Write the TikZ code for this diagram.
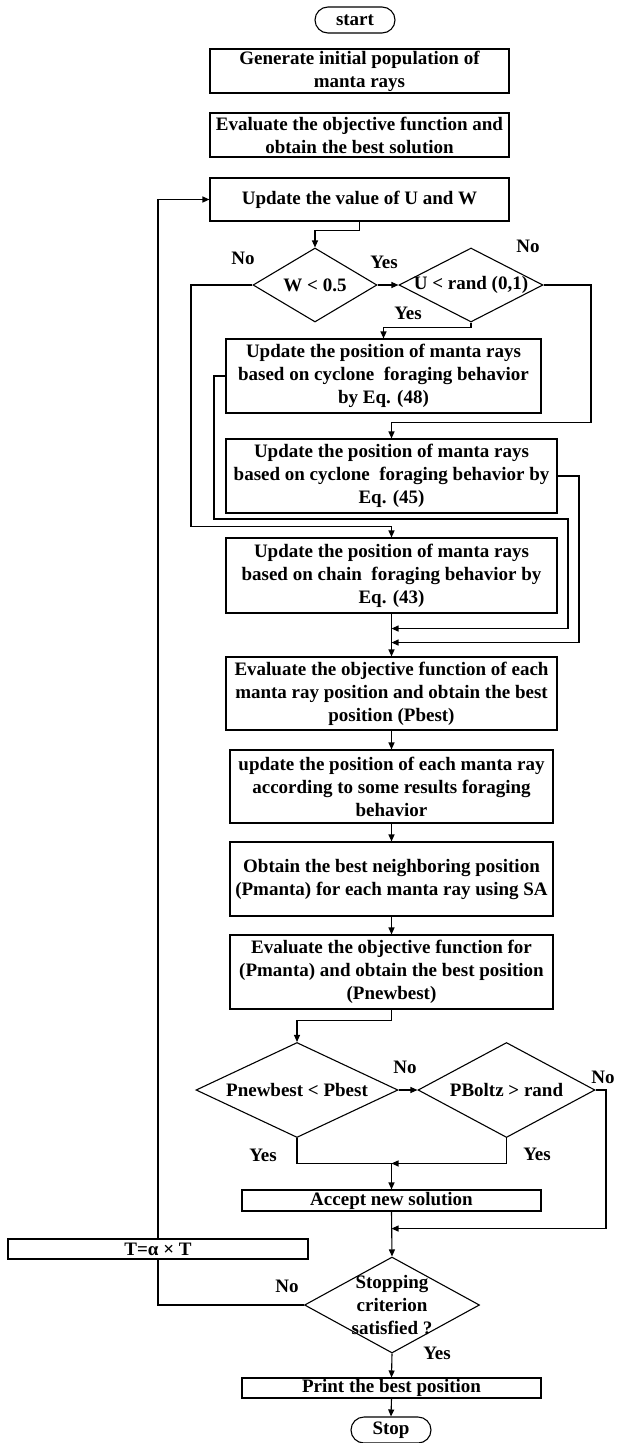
\documentclass[tikz,border=0pt]{standalone}
\usepackage{fontspec}
\setmainfont{Liberation Serif}
\usetikzlibrary{shapes.geometric,arrows.meta,calc}
\begin{document}
\begin{tikzpicture}[x=1pt,y=1pt,
  every node/.style={font=\fontsize{19}{23}\selectfont\bfseries},
  box/.style={draw,line width=1.1pt,inner sep=0pt,align=center},
  term/.style={box,rounded corners=13pt,minimum width=80pt,minimum height=26pt},
  dec/.style={draw,diamond,line width=1.1pt,inner sep=0pt},
  dtext/.style={align=center,inner sep=0pt},
  lbl/.style={inner sep=0pt},
  line/.style={line width=1.1pt},
  arr/.style={line,-{Triangle[length=7pt,width=6pt]}}]
\useasboundingbox (0,0) rectangle (616,-1443);

% nodes
\node[term] (start) at (355,-20) {start};
\node[box,minimum width=299pt,minimum height=44pt] (gen) at (359.5,-71) {Generate initial population of\\manta rays};
\node[box,minimum width=299pt,minimum height=44pt] (eval) at (359.5,-135) {Evaluate the objective function and\\obtain the best solution};
\node[box,minimum width=299pt,minimum height=43pt] (upd) at (359.5,-199.5) {Update the value of U and W};
\node[dec,minimum width=124pt,minimum height=74pt,label={[dtext]center:{W < 0.5}}] (dW) at (315,-285) {};
\node[dec,minimum width=144pt,minimum height=74pt,label={[dtext]center:{U < rand (0,1)}}] (dU) at (471,-285) {};
\node[box,minimum width=315pt,minimum height=74pt] (b48) at (383.5,-376) {Update the position of manta rays\\based on cyclone~ foraging behavior\\by Eq. (48)};
\node[box,minimum width=331pt,minimum height=74pt] (b45) at (391.5,-476) {Update the position of manta rays\\based on cyclone~ foraging behavior by\\Eq. (45)};
\node[box,minimum width=331pt,minimum height=75pt] (b43) at (391.5,-575.5) {Update the position of manta rays\\based on chain~ foraging behavior by\\Eq. (43)};
\node[box,minimum width=331pt,minimum height=73pt] (b4) at (391.5,-693.5) {Evaluate the objective function of each\\manta ray position and obtain the best\\position (Pbest)};
\node[box,minimum width=323pt,minimum height=73pt] (b5) at (391.5,-786.5) {update the position of each manta ray\\according to some results foraging\\behavior};
\node[box,minimum width=323pt,minimum height=74pt] (b6) at (391.5,-879) {Obtain the best neighboring position\\(Pmanta) for each manta ray using SA};
\node[box,minimum width=323pt,minimum height=74pt] (b7) at (391.5,-972) {Evaluate the objective function for\\(Pmanta) and obtain the best position\\(Pnewbest)};
\node[dec,minimum width=202pt,minimum height=95pt,label={[dtext]center:{Pnewbest < Pbest}}] (dP1) at (297,-1090) {};
\node[dec,minimum width=177pt,minimum height=95pt,label={[dtext]center:{PBoltz > rand}}] (dP2) at (506.5,-1090) {};
\node[box,minimum width=299pt,minimum height=21pt] (acc) at (391.5,-1200.5) {Accept new solution};
\node[box,minimum width=300pt,minimum height=20pt] (tbox) at (158,-1249) {T=α × T};
\node[dec,minimum width=175pt,minimum height=96pt,label={[dtext]center:{Stopping\\criterion\\satisfied ?}}] (dS) at (392,-1305) {};
\node[box,minimum width=299pt,minimum height=20pt] (prt) at (391.5,-1388) {Print the best position};
\node[term] (stop) at (391,-1430) {Stop};

% labels
\node[lbl] at (243,-258) {No};
\node[lbl] at (384,-262) {Yes};
\node[lbl] at (528,-246) {No};
\node[lbl] at (408,-313) {Yes};
\node[lbl] at (405,-1067) {No};
\node[lbl] at (603,-1077) {No};
\node[lbl] at (263,-1155) {Yes};
\node[lbl] at (537,-1154) {Yes};
\node[lbl] at (287,-1286) {No};
\node[lbl] at (437,-1353) {Yes};

% helper coordinates
\coordinate (xL1) at (191,0);
\coordinate (xL2) at (214,0);
\coordinate (xR1) at (591,0);
\coordinate (xR2) at (568,0);
\coordinate (xR3) at (579,0);
\coordinate (xR4) at (606,0);
\coordinate (yA) at (0,-519);
\coordinate (j1) at ([yshift=-15pt]b43.south);
\coordinate (j2) at ([yshift=-29pt]b43.south);
\coordinate (j3) at ([yshift=26pt]acc.north);
\coordinate (j4) at ([yshift=-17pt]acc.south);

% connectors
\draw[arr] (upd.south) -- ++(0,-9) -| (dW.north);
\draw[arr] (dW.east) -- (dU.west);
\draw[arr] (dU.south) -- ++(0,-5) -| (b48.north);
\draw[arr] (dU.east) -- (dU.east -| xR1) |- ([yshift=16pt]b45.north) -- (b45.north);
\draw[arr] (dW.west) -- (dW.west -| xL1) |- ([yshift=11pt]b43.north) -- (b43.north);
\draw[arr] (b48.west) -- (b48.west -| xL2) -- (xL2 |- yA) -- (xR2 |- yA) |- (j1);
\draw[arr] (b45.east) -- (b45.east -| xR3) |- (j2);
\draw[arr] (b43.south) -- (b4.north);
\draw[arr] (b4.south) -- (b5.north);
\draw[arr] (b5.south) -- (b6.north);
\draw[arr] (b6.south) -- (b7.north);
\draw[arr] (b7.south) -- ++(0,-11) -| (dP1.north);
\draw[arr] (dP1.east) -- (dP2.west);
\draw[line] (dP1.south) |- (j3);
\draw[arr] (dP2.south) |- (j3);
\draw[arr] (j3) -- (acc.north);
\draw[arr] (dP2.east) -- (dP2.east -| xR4) |- (j4);
\draw[arr] (acc.south) -- (dS.north);
\draw[line] (dS.west) -| (tbox.south);
\draw[arr] (tbox.north) |- (upd.west);
\draw[arr] (dS.south) -- (prt.north);
\draw[arr] (prt.south) -- (stop.north);
\end{tikzpicture}
\end{document}
